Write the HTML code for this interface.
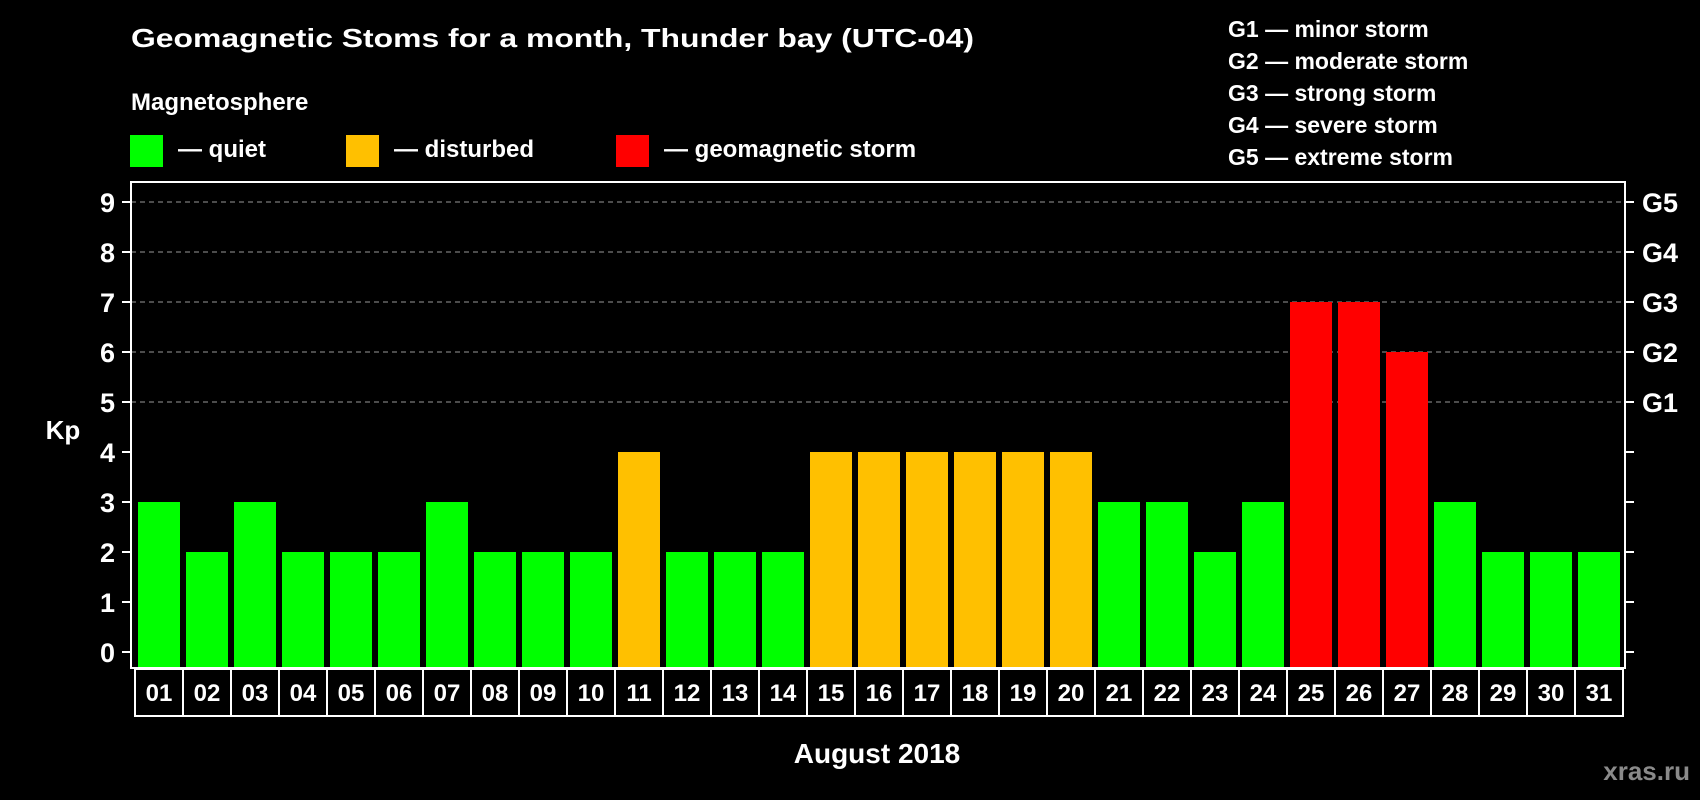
<!DOCTYPE html>
<html><head><meta charset="utf-8"><style>
html,body{margin:0;padding:0;background:#000;}
svg{display:block;font-family:"Liberation Sans",sans-serif;font-weight:bold;}
</style></head><body>
<svg id="chart" width="1700" height="800" viewBox="0 0 1700 800">
<rect x="0" y="0" width="1700" height="800" fill="#000"/>
<text x="131" y="47" font-size="26" fill="#fff" textLength="843" lengthAdjust="spacingAndGlyphs">Geomagnetic Stoms for a month, Thunder bay (UTC-04)</text>
<text x="131" y="110" font-size="24" fill="#fff">Magnetosphere</text>
<g>
<rect x="130" y="135" width="33" height="32" fill="#00ff00"/>
<text x="178" y="157" font-size="24" fill="#fff">— quiet</text></g>
<g>
<rect x="346" y="135" width="33" height="32" fill="#ffc000"/>
<text x="394" y="157" font-size="24" fill="#fff">— disturbed</text></g>
<g>
<rect x="616" y="135" width="33" height="32" fill="#ff0000"/>
<text x="664" y="157" font-size="24" fill="#fff">— geomagnetic storm</text></g>
<g font-size="23" fill="#fff">
<text x="1228" y="37">G1 — minor storm</text>
<text x="1228" y="69">G2 — moderate storm</text>
<text x="1228" y="101">G3 — strong storm</text>
<text x="1228" y="133">G4 — severe storm</text>
<text x="1228" y="165">G5 — extreme storm</text>
</g>
<g id="grid"></g><g id="bars"></g><g id="axes"></g>
<text x="63" y="439" font-size="26" fill="#fff" text-anchor="middle">Kp</text>
<text x="877" y="763" font-size="28" fill="#fff" text-anchor="middle">August 2018</text>
<text x="1690" y="780" font-size="26" fill="#8a8a8a" text-anchor="end">xras.ru</text>
</svg>
<script>
const days = ["01","02","03","04","05","06","07","08","09","10","11","12","13","14","15","16","17","18","19","20","21","22","23","24","25","26","27","28","29","30","31"];
const kpValues = [3,2,3,2,2,2,3,2,2,2,4,2,2,2,4,4,4,4,4,4,3,3,2,3,7,7,6,3,2,2,2];
const yTicks = [0,1,2,3,4,5,6,7,8,9];
const gLabels = ["G1","G2","G3","G4","G5"];
const gLevels = [5,6,7,8,9];

const NS="http://www.w3.org/2000/svg";
const L=131,R=1625,T=182,B=668,Y0=652,UNIT=50,X0=135,STEP=48,BW=42;
const y = v => Y0 - v*UNIT;
const x = i => X0 + i*STEP;
function mk(tag, attrs, parent){const e=document.createElementNS(NS,tag);for(const k in attrs)e.setAttribute(k,attrs[k]);parent.appendChild(e);return e;}
const grid=document.getElementById('grid'),bars=document.getElementById('bars'),axes=document.getElementById('axes');
gLevels.forEach((v)=>{
  const g=mk('line',{x1:L,x2:R,y1:y(v),y2:y(v),stroke:'#999','stroke-width':1,'stroke-dasharray':'5,4'},grid);
  
  
});
kpValues.forEach((v,i)=>{
  const c = v>=5?'#ff0000':(v>=4?'#ffc000':'#00ff00');
  const r=mk('rect',{x:x(i)+3,y:y(v),width:BW,height:B-y(v),fill:c},bars);
  
  
  const b=mk('rect',{x:x(i),y:B+1,width:STEP,height:47,fill:'none',stroke:'#fff','stroke-width':2},axes);
  
  
  const t=mk('text',{x:x(i)+STEP/2,y:701,'font-size':24,fill:'#fff','text-anchor':'middle'},axes);
  t.textContent=days[i];
  
  
});
const fr=mk('rect',{x:L,y:T,width:R-L,height:B-T,fill:'none',stroke:'#fff','stroke-width':2},axes);


yTicks.forEach(v=>{
  const a=mk('line',{x1:122,x2:L,y1:y(v),y2:y(v),stroke:'#fff','stroke-width':2},axes);
  
  
  const b=mk('line',{x1:R,x2:1634,y1:y(v),y2:y(v),stroke:'#fff','stroke-width':2},axes);
  
  
  const t=mk('text',{x:115,y:y(v)+10,'font-size':27,fill:'#fff','text-anchor':'end'},axes);
  t.textContent=v;
  
  
});
gLevels.forEach((v,i)=>{
  const t=mk('text',{x:1642,y:y(v)+10,'font-size':27,fill:'#fff'},axes);
  t.textContent=gLabels[i];
  
  
});
</script>
</body></html>
